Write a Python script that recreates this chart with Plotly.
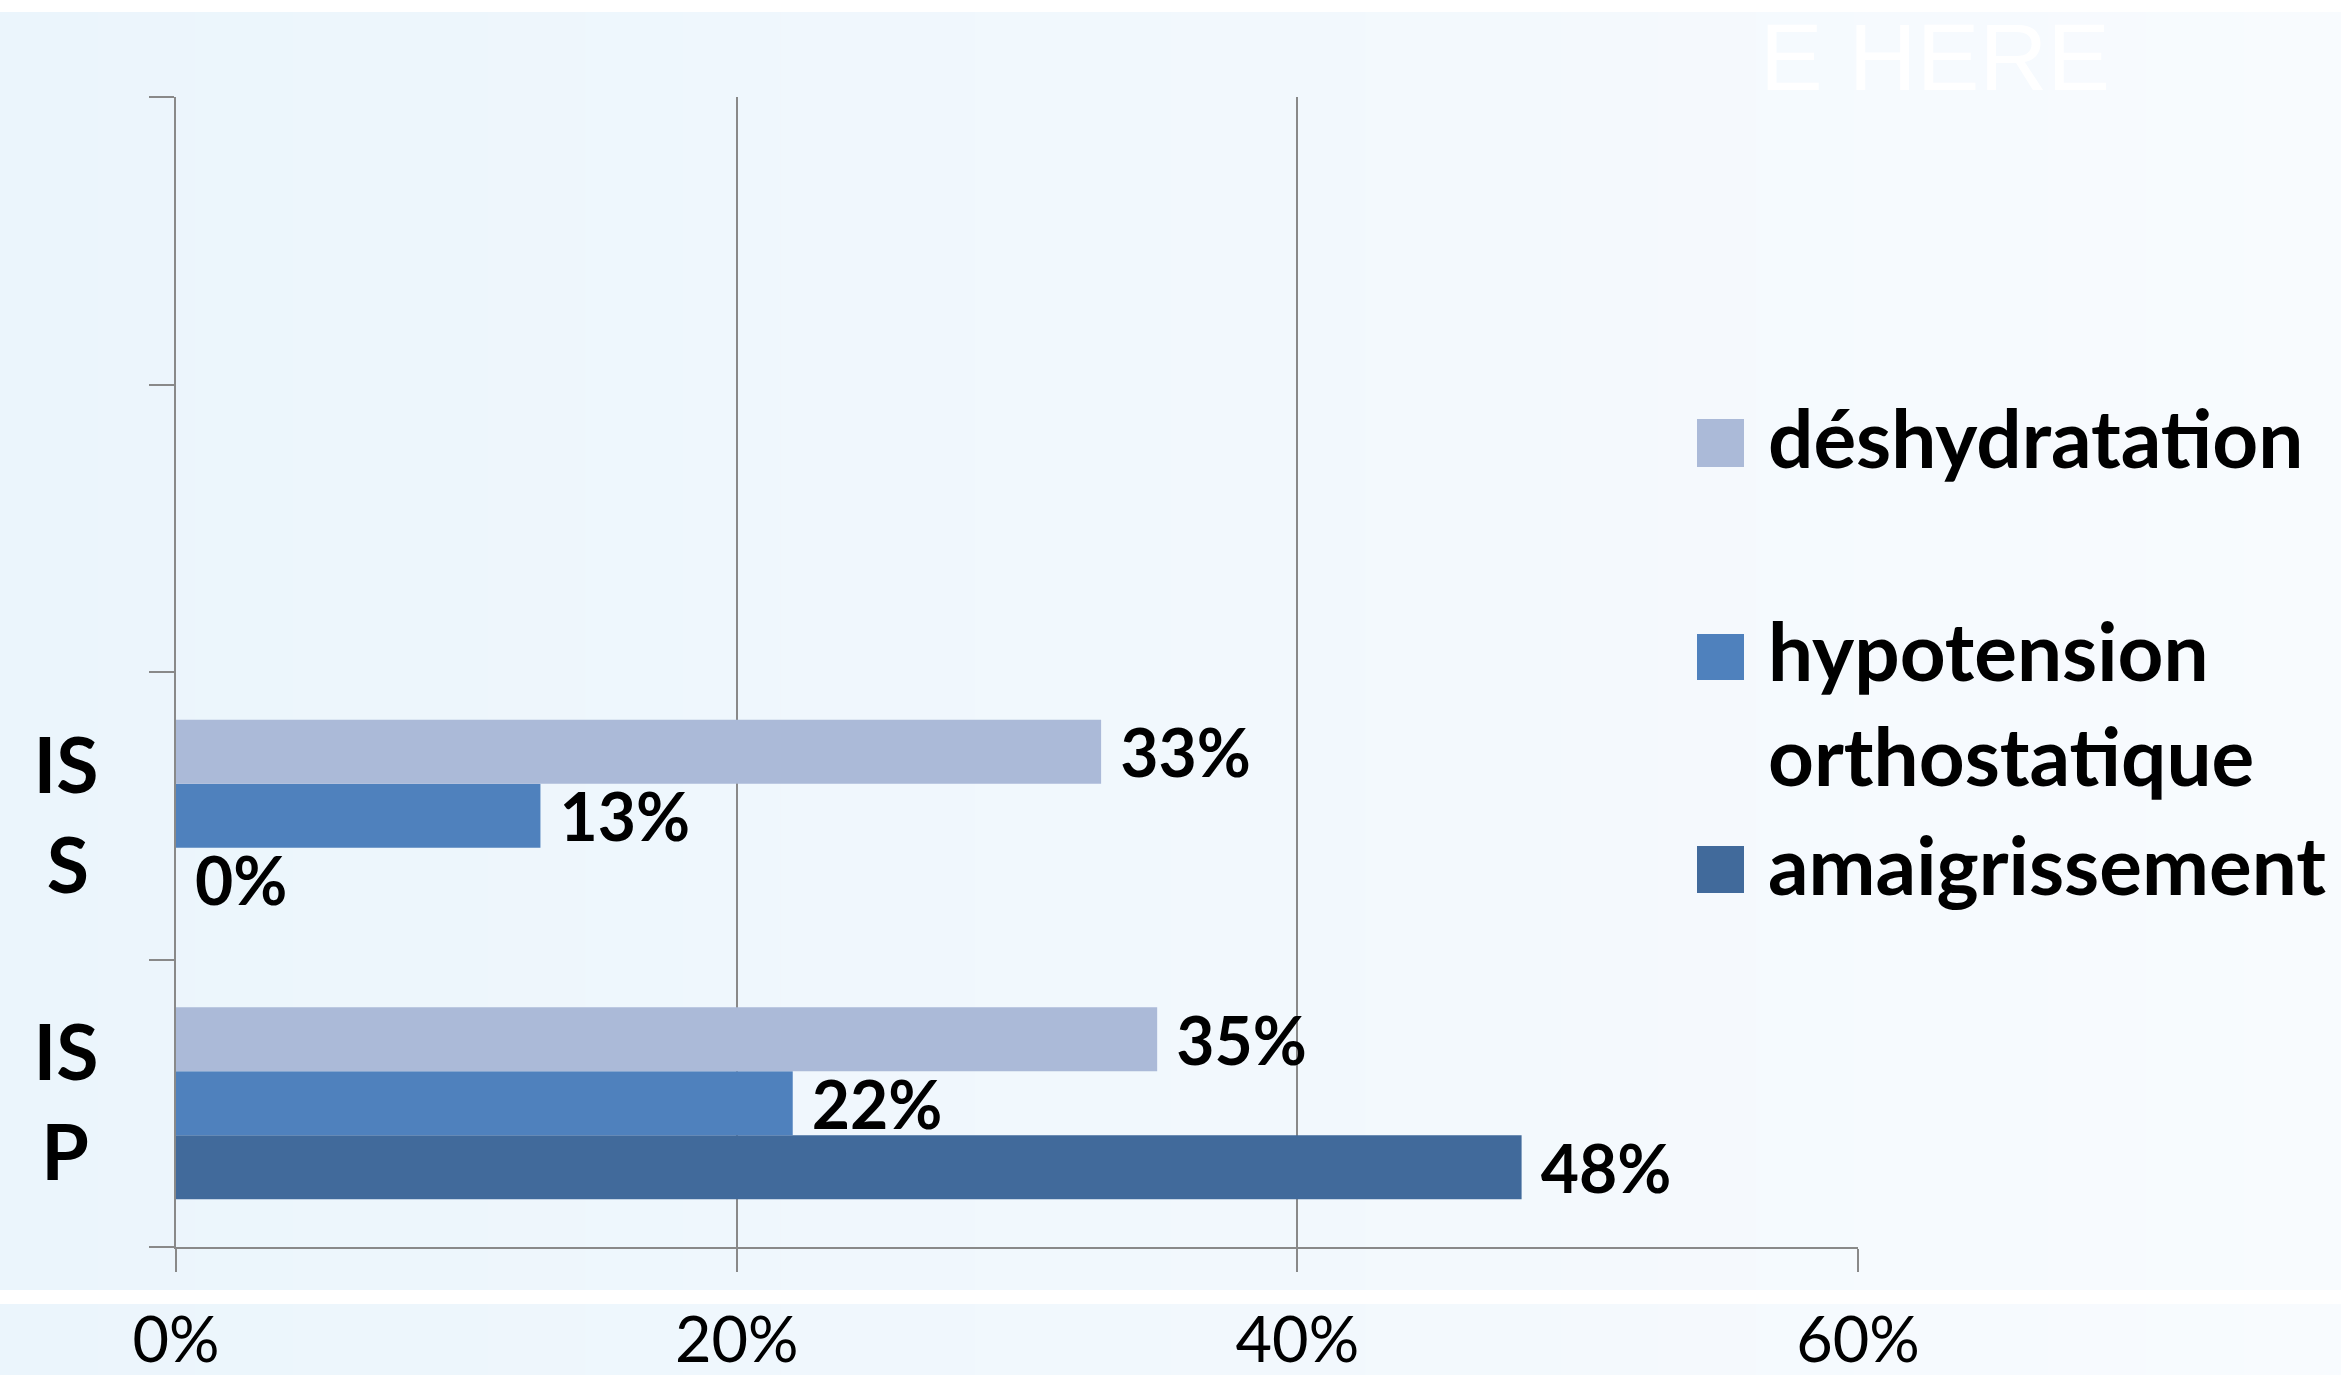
import plotly.graph_objects as go

# ---------------- data ----------------
categories = ["ISP", "ISS", "vide1", "vide2"]          # bottom -> top
cat_labels = ["IS<br>P\u2009", "IS<br>S\u2009", "", ""]
series_names = ["déshydratation", "hypotension orthostatique", "amaigrissement"]
deshydratation = [35, 33, None, None]
hypotension = [22, 13, None, None]
amaigrissement = [48, 0, None, None]
x_ticks = [0, 20, 40, 60]
x_tick_labels = ["0%", "20%", "40%", "60%"]

colors = {"déshydratation": "#ABBAD8",
          "hypotension orthostatique": "#4F81BD",
          "amaigrissement": "#416A9B"}

W, H = 2341, 1375
L, R, T, B = 176, 1858, 97, 1247


def px_x(px):
    return (px - L) / (R - L)


def px_y(py):
    return (B - py) / (B - T)


def lab(vals):
    return ["\u00a0" + str(v) + "%" if v is not None else "" for v in vals]


fig = go.Figure()
# plotly stacks grouped horizontal bars from bottom to top
for name, vals in [("amaigrissement", amaigrissement),
                   ("hypotension orthostatique", hypotension),
                   ("déshydratation", deshydratation)]:
    fig.add_trace(go.Bar(
        y=categories, x=vals, orientation="h", name=name,
        marker=dict(color=colors[name], line=dict(width=0)),
        text=lab(vals), textposition="outside", constraintext="none",
        cliponaxis=False,
        outsidetextfont=dict(family="Lato", size=66, color="black", weight=700),
        showlegend=False,
    ))

# ---------------- background ----------------
shapes = []
n = 24
c0 = (0xEB, 0xF5, 0xFC)
c1 = (0xF8, 0xFB, 0xFE)
for i in range(n):
    t = i / (n - 1)
    col = "rgb(%d,%d,%d)" % tuple(round(a + (b - a) * t) for a, b in zip(c0, c1))
    x0 = W * i / n
    x1 = W * (i + 1) / n + 1
    shapes.append(dict(type="rect", xref="paper", yref="paper", layer="below",
                       x0=px_x(x0), x1=px_x(x1), y0=px_y(H + 5), y1=px_y(-5),
                       fillcolor=col, line=dict(width=0)))
# white stripes
for y0, y1 in [(0, 12), (1293, 1304)]:
    shapes.append(dict(type="rect", xref="paper", yref="paper", layer="below",
                       x0=px_x(-5), x1=px_x(W + 5), y0=px_y(y1), y1=px_y(y0 - 3),
                       fillcolor="white", line=dict(width=0)))

# ---------------- legend (swatches + labels) ----------------
legend_items = [
    ("déshydratation", ["déshydratation"], 419, 467, [468]),
    ("hypotension orthostatique", ["hypotension", "orthostatique"], 634, 680, [681, 786]),
    ("amaigrissement", ["amaigrissement"], 846, 893, [895]),
]
annotations = []
fs_leg = 80
for key, lines, sy0, sy1, baselines in legend_items:
    shapes.append(dict(type="rect", xref="paper", yref="paper", layer="above",
                       x0=px_x(1697), x1=px_x(1744), y0=px_y(sy1), y1=px_y(sy0),
                       fillcolor=colors[key], line=dict(width=0)))
    for txt, bl in zip(lines, baselines):
        cy = bl - (0.987 - 0.213) / 2 * fs_leg
        annotations.append(dict(text=txt, xref="paper", yref="paper",
                                x=px_x(1766), y=px_y(cy), xanchor="left", yanchor="middle",
                                showarrow=False,
                                font=dict(family="Lato", size=fs_leg, color="black", weight=700)))

# faded title remnant (white text partly hidden in the top band)
annotations.append(dict(text="E HERE", xref="paper", yref="paper",
                        x=px_x(1758), y=px_y(3), xanchor="left", yanchor="top",
                        showarrow=False,
                        font=dict(family="Liberation Sans", size=94, color="white")))

axis_col = "#898989"
fig.update_layout(
    width=W, height=H,
    margin=dict(l=L, r=W - R, t=T, b=H - B, autoexpand=False),
    paper_bgcolor="#f2f8fd", plot_bgcolor="rgba(0,0,0,0)",
    barmode="group", bargap=0.332, bargroupgap=0,
    shapes=shapes, annotations=annotations,
    showlegend=False,
    xaxis=dict(range=[0, 60], tickmode="array", tickvals=x_ticks, ticktext=x_tick_labels,
               showgrid=True, gridcolor=axis_col, gridwidth=2,
               showline=True, linecolor=axis_col, linewidth=2,
               ticks="outside", ticklen=23, tickwidth=2, tickcolor=axis_col,
               ticklabelstandoff=14, automargin=False, zeroline=False,
               tickfont=dict(family="Lato", size=63, color="black")),
    yaxis=dict(type="category", categoryorder="array", categoryarray=categories,
               range=[-0.5, 3.5], tickmode="array", tickvals=categories, ticktext=cat_labels,
               tickson="boundaries", showgrid=False,
               showline=True, linecolor=axis_col, linewidth=2,
               ticks="outside", ticklen=25, tickwidth=2, tickcolor=axis_col,
               ticklabelstandoff=60, automargin=False,
               tickfont=dict(family="Lato", size=77, color="black", weight=700)),
)

fig.write_html("out.html", config={"displayModeBar": False},
               post_script="document.body.style.margin='0';"
                           "document.documentElement.style.overflow='hidden';")
